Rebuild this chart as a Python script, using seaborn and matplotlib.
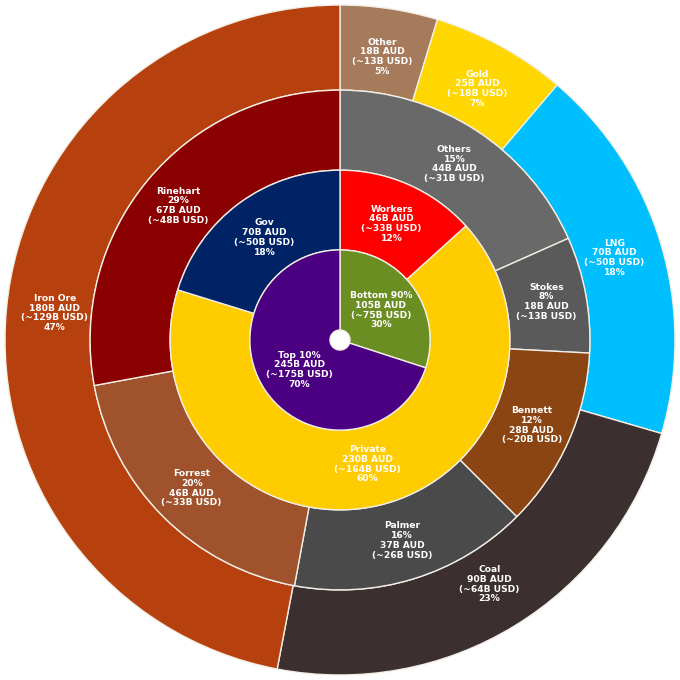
import matplotlib
matplotlib.use("Agg")
import matplotlib.pyplot as plt
import seaborn as sns

sns.set_theme(style="white")
plt.rcParams['font.family'] = ['DejaVu Sans']

# Outer ring: export commodities
commod_names = ['Other', 'Gold', 'LNG', 'Coal', 'Iron Ore']
commod_aud = [18, 25, 70, 90, 180]
commod_usd = [13, 18, 50, 64, 129]
commod_pct = [5, 7, 18, 23, 47]
commod_colors = ['#A67B5B', '#FFD700', '#00BFFF', '#3B2F2F', '#B7410E']

# Third ring: owners
owner_names = ['Others', 'Stokes', 'Bennett', 'Palmer', 'Forrest', 'Rinehart']
owner_aud = [44, 18, 28, 37, 46, 67]
owner_usd = [31, 13, 20, 26, 33, 48]
owner_pct = [15, 8, 12, 16, 20, 29]
owner_colors = ['#696969', '#5A5A5A', '#8B4513', '#4A4A4A', '#A0522D', '#8B0000']

# Second ring: who gets it
group_names = ['Workers', 'Private', 'Gov']
group_aud = [46, 230, 70]
group_usd = [33, 164, 50]
group_pct = [12, 60, 18]
group_colors = ['#FF0000', '#FFCC00', '#002366']

# Inner ring: wealth split
split_names = ['Bottom 90%', 'Top 10%']
split_aud = [105, 245]
split_usd = [75, 175]
split_pct = [30, 70]
split_colors = ['#6B8E23', '#4B0082']

lbl_commod = [f"{n}\n{a}B AUD\n(~{u}B USD)\n{p}%" for n, a, u, p in zip(commod_names, commod_aud, commod_usd, commod_pct)]
lbl_owner = [f"{n}\n{p}%\n{a}B AUD\n(~{u}B USD)" for n, a, u, p in zip(owner_names, owner_aud, owner_usd, owner_pct)]
lbl_group = [f"{n}\n{a}B AUD\n(~{u}B USD)\n{p}%" for n, a, u, p in zip(group_names, group_aud, group_usd, group_pct)]
lbl_split = [f"{n}\n{a}B AUD\n(~{u}B USD)\n{p}%" for n, a, u, p in zip(split_names, split_aud, split_usd, split_pct)]

fig = plt.figure(figsize=(6.8, 6.8), dpi=100)
ax = fig.add_axes([0, 0, 1, 1])

# (values, colours, labels, outer radius, ring width, label distance)
rings = [
    (commod_aud, commod_colors, lbl_commod, 1.0, 0.254, 0.855),
    (owner_aud, owner_colors, lbl_owner, 0.746, 0.239, 0.84),
    (group_aud, group_colors, lbl_group, 0.507, 0.238, 0.75),
    (split_aud, split_colors, lbl_split, 0.269, 0.239, 0.56),
]

for vals, cols, labels, r, w, ld in rings:
    wedges, texts = ax.pie(vals, colors=cols, labels=labels, radius=r,
                           startangle=90, counterclock=False, labeldistance=ld,
                           wedgeprops=dict(width=w, edgecolor='#F2EEE4', linewidth=1),
                           textprops=dict(color='white', fontsize=6.6, fontweight='bold'))
    for t in texts:
        t.set_ha('center')
        t.set_va('center')
        t.set_multialignment('center')
        t.set_linespacing(1.1)

ax.set_xlim(-1.015, 1.015)
ax.set_ylim(-1.015, 1.015)
ax.axis('off')

fig.savefig('out.png', dpi=100, facecolor='white')
